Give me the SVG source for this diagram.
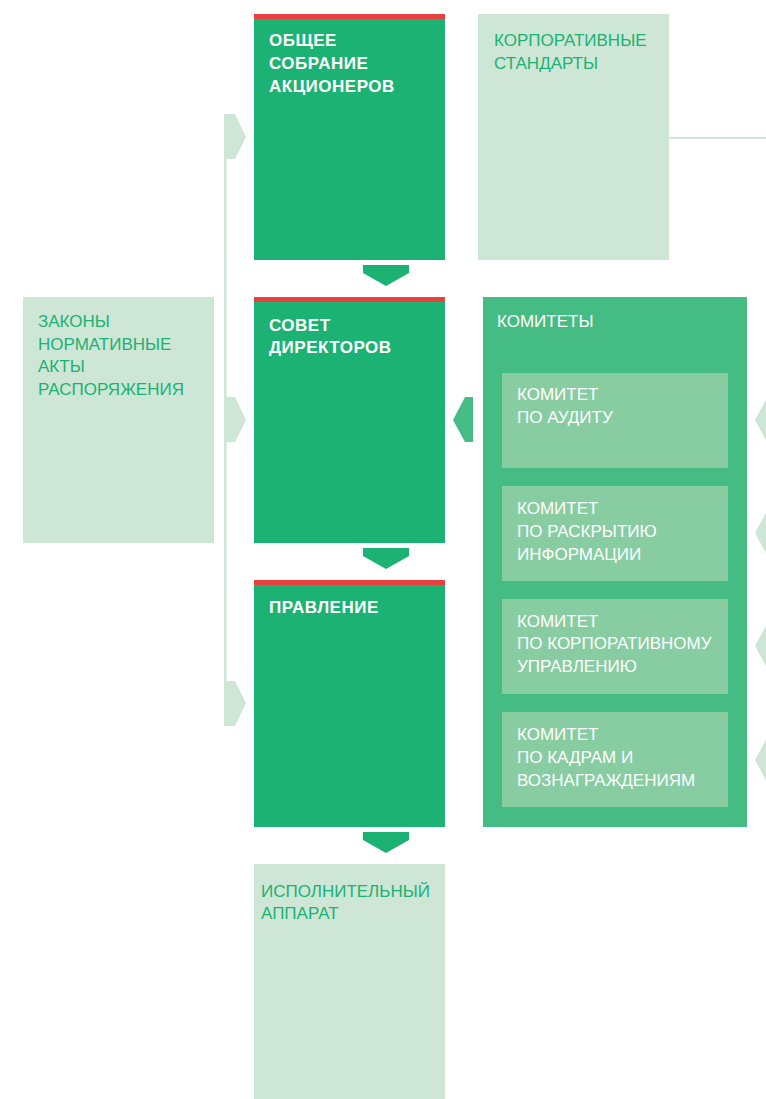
<svg xmlns="http://www.w3.org/2000/svg" width="766" height="1099" viewBox="0 0 766 1099">
<style>
.main{fill:#1bb273}
.red{fill:#e8403f}
.light{fill:#cde6d6}
.com{fill:#45bc84}
.inner{fill:#88cca2}
.t{font-family:"Liberation Sans",Arial,sans-serif;font-size:17px}
.b{font-family:"Liberation Sans",Arial,sans-serif;font-size:17px;font-weight:bold;fill:#fff;letter-spacing:0.5px}
.g{fill:#1bb273}
.w{fill:#fff}
</style>
<rect width="766" height="1099" fill="#fff"/>
<g id="connectors">
<rect class="light" x="224" y="137" width="2.5" height="566"/>
<path class="light" d="M224 114H235L246 137L235 159H224Z"/>
<path class="light" d="M224 397H235L246 420L235 442H224Z"/>
<path class="light" d="M224 681H235L246 703L235 726H224Z"/>
<rect class="light" x="669" y="137" width="97" height="2"/>
<path class="main" d="M363 265H409V273L386 286L363 273Z"/>
<path class="main" d="M363 548H409V556L386 569L363 556Z"/>
<path class="main" d="M363 832H409V840L386 853L363 840Z"/>
<path class="com" d="M473 397H465L453 420L465 442H473Z"/>
<path class="light" d="M755 420L767 398H780V442H767Z"/>
<path class="light" d="M755 533L767 511H780V555H767Z"/>
<path class="light" d="M755 646L767 624H780V668H767Z"/>
<path class="light" d="M755 760L767 738H780V782H767Z"/>
</g>
<g id="laws">
<rect class="light" x="23" y="297" width="191" height="246"/>
<text class="t g"><tspan x="38" y="327">ЗАКОНЫ</tspan><tspan x="38" y="350">НОРМАТИВНЫЕ</tspan><tspan x="38" y="372">АКТЫ</tspan><tspan x="38" y="395">РАСПОРЯЖЕНИЯ</tspan></text>
</g>
<g id="gms">
<rect class="main" x="254" y="14" width="191" height="246"/>
<rect class="red" x="254" y="14" width="191" height="5"/>
<text class="b"><tspan x="269" y="46">ОБЩЕЕ</tspan><tspan x="269" y="69">СОБРАНИЕ</tspan><tspan x="269" y="92">АКЦИОНЕРОВ</tspan></text>
</g>
<g id="standards">
<rect class="light" x="478" y="14" width="191" height="246"/>
<text class="t g"><tspan x="494" y="46">КОРПОРАТИВНЫЕ</tspan><tspan x="494" y="69">СТАНДАРТЫ</tspan></text>
</g>
<g id="board">
<rect class="main" x="254" y="297" width="191" height="246"/>
<rect class="red" x="254" y="297" width="191" height="5"/>
<text class="b"><tspan x="269" y="331">СОВЕТ</tspan><tspan x="269" y="353">ДИРЕКТОРОВ</tspan></text>
</g>
<g id="committees">
<rect class="com" x="483" y="297" width="264" height="530"/>
<text class="t w" x="497" y="327">КОМИТЕТЫ</text>
</g>
<g id="audit">
<rect class="inner" x="502" y="373" width="226" height="95"/>
<text class="t w"><tspan x="517" y="400">КОМИТЕТ</tspan><tspan x="517" y="423">ПО АУДИТУ</tspan></text>
</g>
<g id="disclosure">
<rect class="inner" x="502" y="486" width="226" height="95"/>
<text class="t w"><tspan x="517" y="514">КОМИТЕТ</tspan><tspan x="517" y="537">ПО РАСКРЫТИЮ</tspan><tspan x="517" y="560">ИНФОРМАЦИИ</tspan></text>
</g>
<g id="governance">
<rect class="inner" x="502" y="599" width="226" height="95"/>
<text class="t w"><tspan x="517" y="627">КОМИТЕТ</tspan><tspan x="517" y="649">ПО КОРПОРАТИВНОМУ</tspan><tspan x="517" y="672">УПРАВЛЕНИЮ</tspan></text>
</g>
<g id="hr">
<rect class="inner" x="502" y="712" width="226" height="95"/>
<text class="t w"><tspan x="517" y="740">КОМИТЕТ</tspan><tspan x="517" y="763">ПО КАДРАМ И</tspan><tspan x="517" y="786">ВОЗНАГРАЖДЕНИЯМ</tspan></text>
</g>
<g id="management">
<rect class="main" x="254" y="580" width="191" height="247"/>
<rect class="red" x="254" y="580" width="191" height="5"/>
<text class="b" x="269" y="613">ПРАВЛЕНИЕ</text>
</g>
<g id="executive">
<rect class="light" x="254" y="864" width="191" height="235"/>
<text class="t g"><tspan x="261" y="897">ИСПОЛНИТЕЛЬНЫЙ</tspan><tspan x="261" y="919">АППАРАТ</tspan></text>
</g>
</svg>
